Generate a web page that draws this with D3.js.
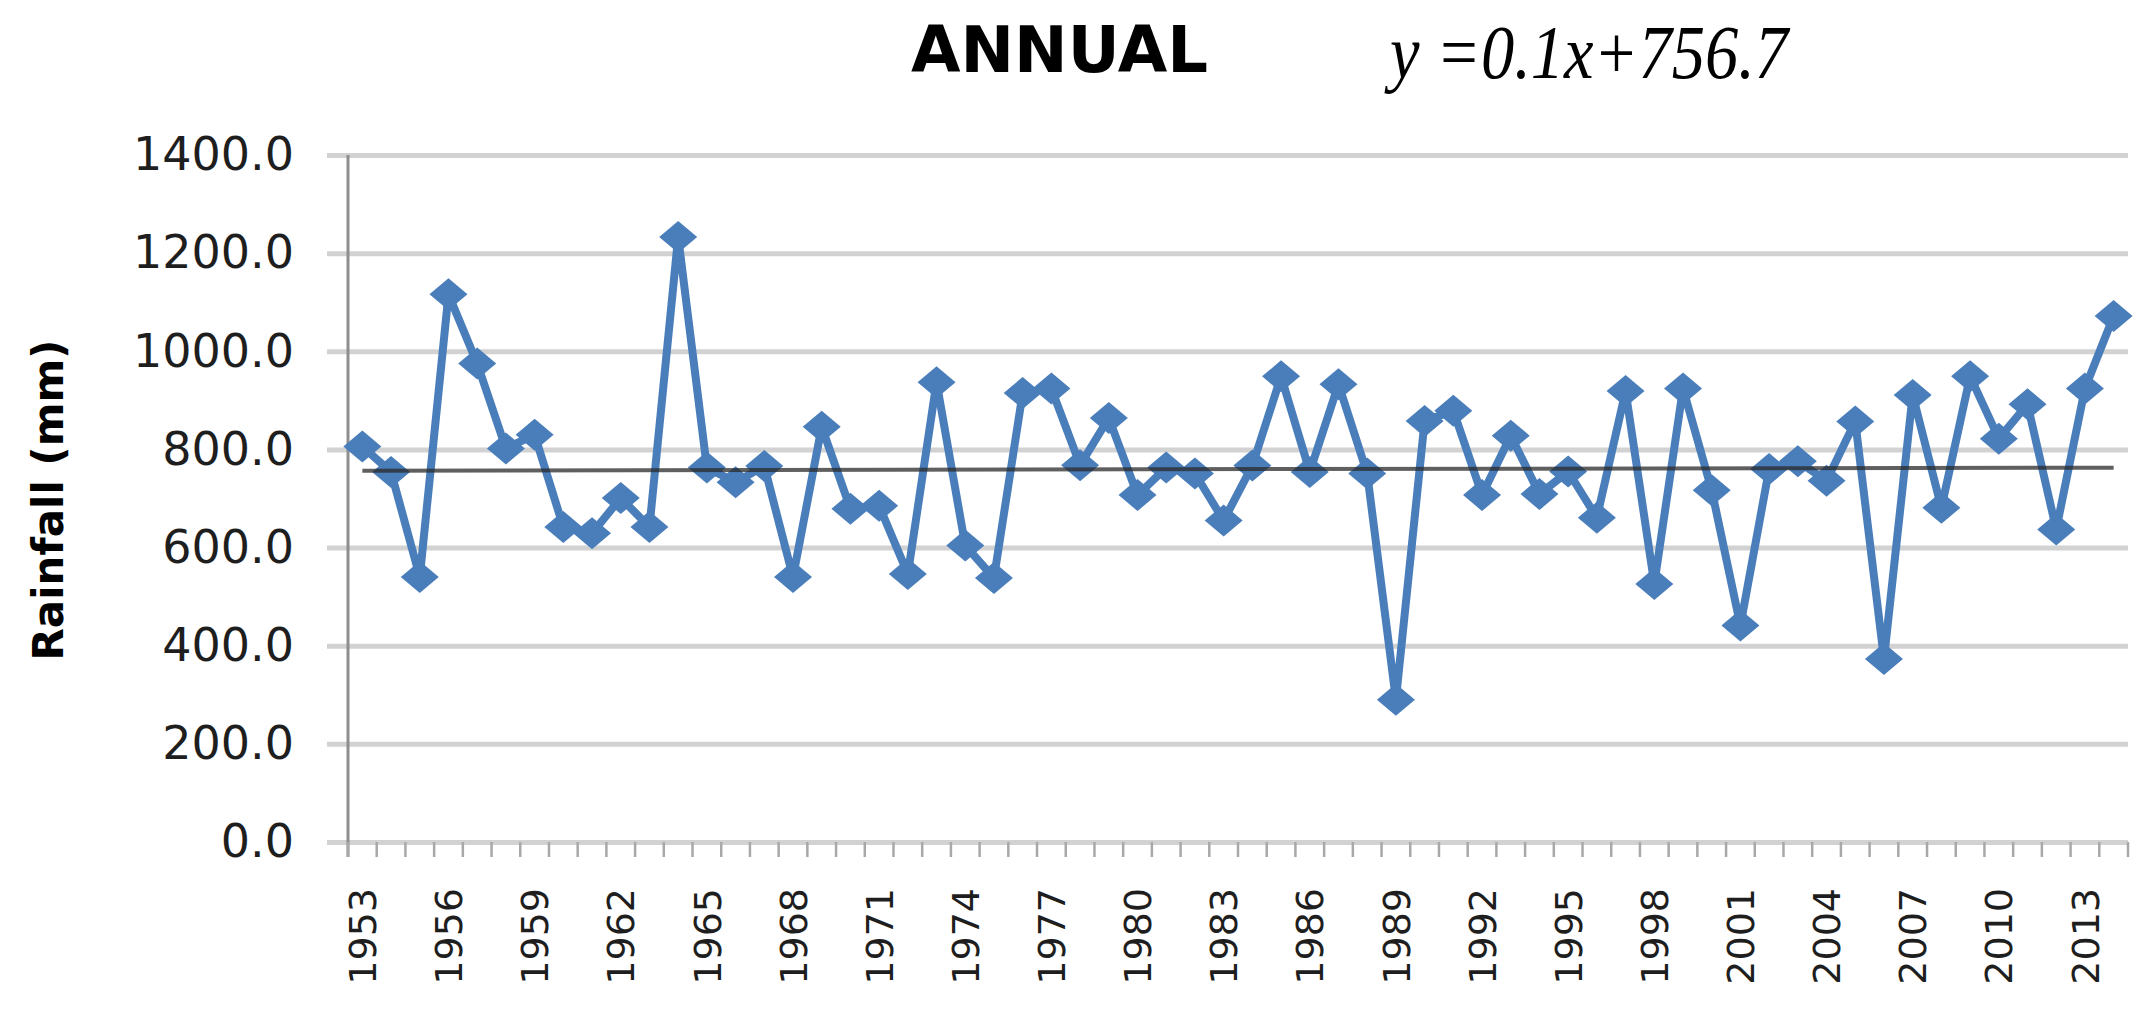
<!DOCTYPE html>
<html>
<head>
<meta charset="utf-8">
<script src="https://cdn.jsdelivr.net/npm/d3@7"></script>
<style>
  html, body { margin: 0; padding: 0; background: #ffffff; }
  svg { display: block; }
</style>
</head>
<body>
<svg id="chart" width="2155" height="1012"></svg>
<script>
// ---- data ----
const years = d3.range(1953, 2015);
const rainfall = [
  806, 754, 540, 1116, 975, 802, 830, 642, 629, 701,
  642, 1233, 763, 733, 766, 540, 846, 679, 685, 546,
  937, 604, 538, 915, 924, 768, 864, 707, 763, 751,
  655, 767, 949, 754, 933, 751, 290, 858, 879, 707,
  828, 709, 755, 661, 919, 526, 924, 717, 441, 760,
  776, 736, 857, 373, 911, 681, 949, 822, 892, 637,
  924, 1072
];
const yTicks = [0, 200, 400, 600, 800, 1000, 1200, 1400];
const xLabelYears = years.filter((d, i) => i % 3 === 0);
const trendSlope = 0.1, trendIntercept = 756.7;
const titleText = "ANNUAL";
const equationText = "y =0.1x+756.7";
const yAxisTitle = "Rainfall (mm)";

// ---- layout ----
const svg = d3.select("#chart");
const plotLeft = 348, plotRight = 2128, plotTop = 155, plotBottom = 842;
const blue = "#4a7ebb";

const x = d3.scaleBand().domain(years).range([plotLeft, plotRight]).padding(0);
const y = d3.scaleLinear().domain([0, 1400]).range([plotBottom, plotTop]);
const cx = d => x(d) + x.bandwidth() / 2;

// gridlines (extend left of the axis as outside ticks)
const grid = svg.append("g")
  .attr("transform", `translate(${plotLeft - 21},0)`)
  .call(d3.axisLeft(y).tickValues(yTicks).tickSize(-(plotRight - plotLeft + 21)).tickFormat(""));
grid.select(".domain").remove();
grid.selectAll(".tick line").attr("stroke", "#d2d2d2").attr("stroke-width", 5);

// y axis labels
const yAxis = svg.append("g")
  .attr("transform", `translate(${plotLeft},0)`)
  .call(d3.axisLeft(y).tickValues(yTicks).tickSize(0).tickPadding(54).tickFormat(d3.format(".1f")));
yAxis.select(".domain").remove();
yAxis.selectAll("text")
  .attr("font-family", "DejaVu Sans, Verdana, sans-serif")
  .attr("font-size", 46)
  .attr("fill", "#1e1e1e");

// y axis line
svg.append("line")
  .attr("x1", plotLeft).attr("x2", plotLeft)
  .attr("y1", y(1400)).attr("y2", y(0) + 15)
  .attr("stroke", "#8e8e8e").attr("stroke-width", 3);

// x axis ticks at category boundaries
const boundaries = years.map(d => x(d)).concat([x.range()[1]]);
svg.append("g").selectAll("line").data(boundaries).join("line")
  .attr("x1", d => d).attr("x2", d => d)
  .attr("y1", y(0)).attr("y2", y(0) + 15)
  .attr("stroke", "#a8a8a8").attr("stroke-width", 2.5);

// x axis labels (every third year), rotated
const xAxis = svg.append("g")
  .attr("transform", `translate(0,${plotBottom})`)
  .call(d3.axisBottom(x).tickValues(xLabelYears).tickSize(0).tickPadding(0));
xAxis.select(".domain").remove();
xAxis.selectAll("text")
  .attr("font-family", "DejaVu Sans, Verdana, sans-serif")
  .attr("font-size", 38)
  .attr("fill", "#1e1e1e")
  .attr("text-anchor", "end")
  .attr("transform", "translate(0,46) rotate(-90)")
  .attr("x", 0).attr("y", 0)
  .attr("dy", "0.36em");

// series line
const line = d3.line().x((d, i) => cx(years[i])).y(d => y(d));
svg.append("path")
  .datum(rainfall)
  .attr("d", line)
  .attr("fill", "none")
  .attr("stroke", blue)
  .attr("stroke-width", 8)
  .attr("stroke-linejoin", "round");

// diamond markers
const hw = 19, hh = 16;
svg.append("g").selectAll("path").data(rainfall).join("path")
  .attr("d", (d, i) => {
    const px = cx(years[i]), py = y(d);
    return `M${px - hw},${py}L${px},${py - hh}L${px + hw},${py}L${px},${py + hh}Z`;
  })
  .attr("fill", blue);

// linear trend line
const trend = [years[0], years[years.length - 1]].map(yr => ({
  yr, v: trendSlope * (yr - years[0] + 1) + trendIntercept
}));
svg.append("line")
  .attr("x1", cx(trend[0].yr)).attr("y1", y(trend[0].v))
  .attr("x2", cx(trend[1].yr)).attr("y2", y(trend[1].v))
  .attr("stroke", "#2a2a2a").attr("stroke-opacity", 0.75).attr("stroke-width", 4);

// title
svg.append("text")
  .attr("x", 911).attr("y", 72)
  .attr("font-family", "DejaVu Sans, Verdana, sans-serif")
  .attr("font-weight", "bold")
  .attr("font-size", 64)
  .attr("fill", "#000")
  .text(titleText);

// equation
svg.append("text")
  .attr("x", 1390).attr("y", 78)
  .attr("font-family", "Liberation Serif, Times New Roman, serif")
  .attr("font-style", "italic")
  .attr("font-size", 76)
  .attr("textLength", 398)
  .attr("lengthAdjust", "spacingAndGlyphs")
  .attr("fill", "#000")
  .text(equationText);

// y axis title
svg.append("text")
  .attr("transform", `translate(63,${(338 + 662) / 2}) rotate(-90)`)
  .attr("text-anchor", "middle")
  .attr("font-family", "DejaVu Sans, Verdana, sans-serif")
  .attr("font-weight", "bold")
  .attr("font-size", 42)
  .attr("fill", "#000")
  .text(yAxisTitle);
</script>
</body>
</html>
